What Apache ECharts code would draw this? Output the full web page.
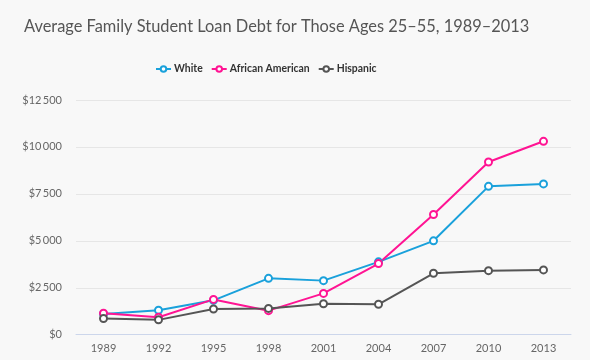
<!DOCTYPE html>
<html><head><meta charset="utf-8">
<script src="https://cdn.jsdelivr.net/npm/echarts@6/dist/echarts.min.js"></script>
<style>html,body{margin:0;padding:0;background:#f8f8f8}#c{width:590px;height:360px}</style>
</head><body><div id="c"></div>
<script>
var years = ['1989','1992','1995','1998','2001','2004','2007','2010','2013'];
var white = [1100, 1300, 1830, 3000, 2880, 3880, 5000, 7900, 8030];
var africanAmerican = [1140, 930, 1880, 1280, 2200, 3790, 6400, 9200, 10300];
var hispanic = [860, 790, 1370, 1400, 1650, 1620, 3270, 3410, 3450];
var yTicks = [0, 2500, 5000, 7500, 10000, 12500];

function fmt(v){ return '$' + String(v).replace(/\B(?=(\d{3})+(?!\d))/g, '\u2009'); }
function mk(name, data, color){
  return {name:name, type:'line', data:data, symbol:'circle', symbolSize:7,
    itemStyle:{color:'#fff', borderColor:color, borderWidth:2},
    lineStyle:{color:color, width:2}, emphasis:{disabled:true}};
}
var chart = echarts.init(document.getElementById('c'));
chart.setOption({
  backgroundColor:'#f8f8f8',
  animation:false,
  textStyle:{fontFamily:'Lato'},
  title:{text:'Average Family Student Loan Debt for Those Ages 25\u201355, 1989\u20132013', left:19, top:14,
    textStyle:{fontFamily:'Lato', fontSize:16.4, fontWeight:'normal', color:'#555'}},
  legend:{top:59, left:150, itemWidth:15, itemHeight:7, itemGap:8,
    textStyle:{fontFamily:'Lato', fontSize:10.4, fontWeight:'bold', color:'#333', padding:[0,0,0,-2]},
    data:['White','African American','Hispanic']},
  grid:{left:76, right:19, top:100, bottom:25.3},
  xAxis:{type:'category', data:years, boundaryGap:true,
    axisLine:{lineStyle:{color:'#ccd6eb', width:1}},
    axisTick:{alignWithLabel:true, length:8, lineStyle:{color:'#ccd6eb'}},
    axisLabel:{fontFamily:'Lato', fontSize:11, color:'#666', margin:8}},
  yAxis:{type:'value', min:yTicks[0], max:yTicks[yTicks.length-1], interval:2500,
    axisLine:{show:false}, axisTick:{show:false},
    splitLine:{lineStyle:{color:'#e6e6e6'}},
    axisLabel:{fontFamily:'Lato', fontSize:11, color:'#666', margin:14, formatter:fmt}},
  series:[mk('White', white, '#1aa1db'), mk('African American', africanAmerican, '#ff1493'), mk('Hispanic', hispanic, '#555555')]
});
</script></body></html>
